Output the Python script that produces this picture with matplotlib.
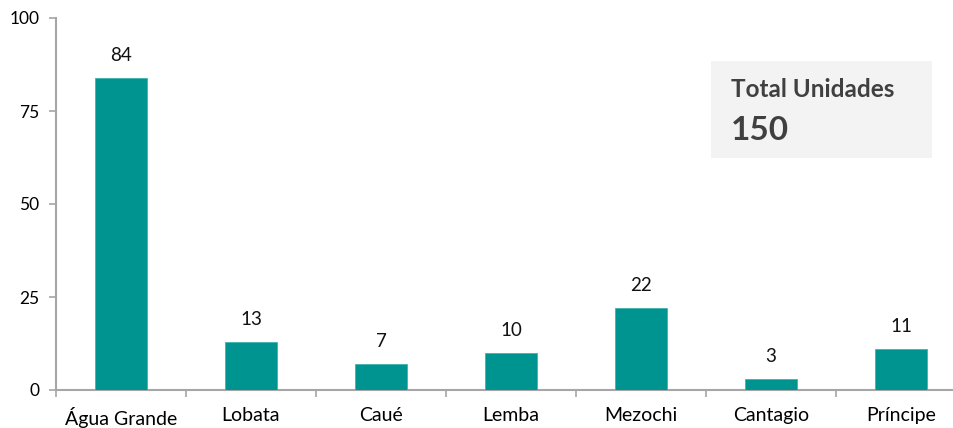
import matplotlib
matplotlib.use("Agg")
import matplotlib.pyplot as plt
import numpy as np

categories = ["Água Grande", "Lobata", "Caué", "Lemba", "Mezochi", "Cantagio", "Príncipe"]
values = [84, 13, 7, 10, 22, 3, 11]
yticks = [0, 25, 50, 75, 100]
total_label = "Total Unidades"
total_value = "150"

plt.rcParams['font.family'] = ['Lato', 'DejaVu Sans']

W, H = 954, 428
fig = plt.figure(figsize=(W / 100, H / 100), dpi=100)
left, right, bottom, top = 56, 966, 38, 410
ax = fig.add_axes([left / W, bottom / H, (right - left) / W, (top - bottom) / H])

x = np.arange(len(categories))
bar_color = "#009490"
ax.bar(x, values, width=0.4, color=bar_color, edgecolor="#3fb3b0", linewidth=0.6, zorder=3)
for xi, v in zip(x, values):
    ax.annotate(str(v), (xi, v), xytext=(0, 10), textcoords="offset points",
                ha="center", va="bottom", fontsize=13.5, color="#111111")

ax.set_xlim(-0.5, len(categories) - 0.5)
ax.set_ylim(0, 100)
ax.set_yticks(yticks)
ax.set_yticklabels([str(t) for t in yticks], fontsize=12.5)
ax.set_xticks(x)
ax.set_xticklabels(categories, fontsize=14)
ax.set_xticks(np.arange(len(categories) + 1) - 0.5, minor=True)
ax.tick_params(axis="x", which="major", length=0, pad=12)
ax.tick_params(axis="x", which="minor", length=5, color="#a6a6a6", width=1.2)
ax.tick_params(axis="y", length=5, color="#a6a6a6", width=1.2, pad=7)

for s in ["top", "right"]:
    ax.spines[s].set_visible(False)
for s in ["left", "bottom"]:
    ax.spines[s].set_color("#a6a6a6")
    ax.spines[s].set_linewidth(1.5)

# Total box
bx0, bx1, by0, by1 = 711, 932, 61, 158
fig.patches.append(plt.Rectangle((bx0 / W, 1 - by1 / H), (bx1 - bx0) / W, (by1 - by0) / H,
                                 transform=fig.transFigure, facecolor="#f3f3f3",
                                 edgecolor="none", zorder=5))
fig.text(731 / W, 1 - 97 / H, total_label, fontsize=17.5, fontweight="bold",
         color="#404040", ha="left", va="baseline", zorder=6)
fig.text(731 / W, 1 - 140 / H, total_value, fontsize=24, fontweight="bold",
         color="#404040", ha="left", va="baseline", zorder=6)

fig.savefig("out.png", dpi=100)
